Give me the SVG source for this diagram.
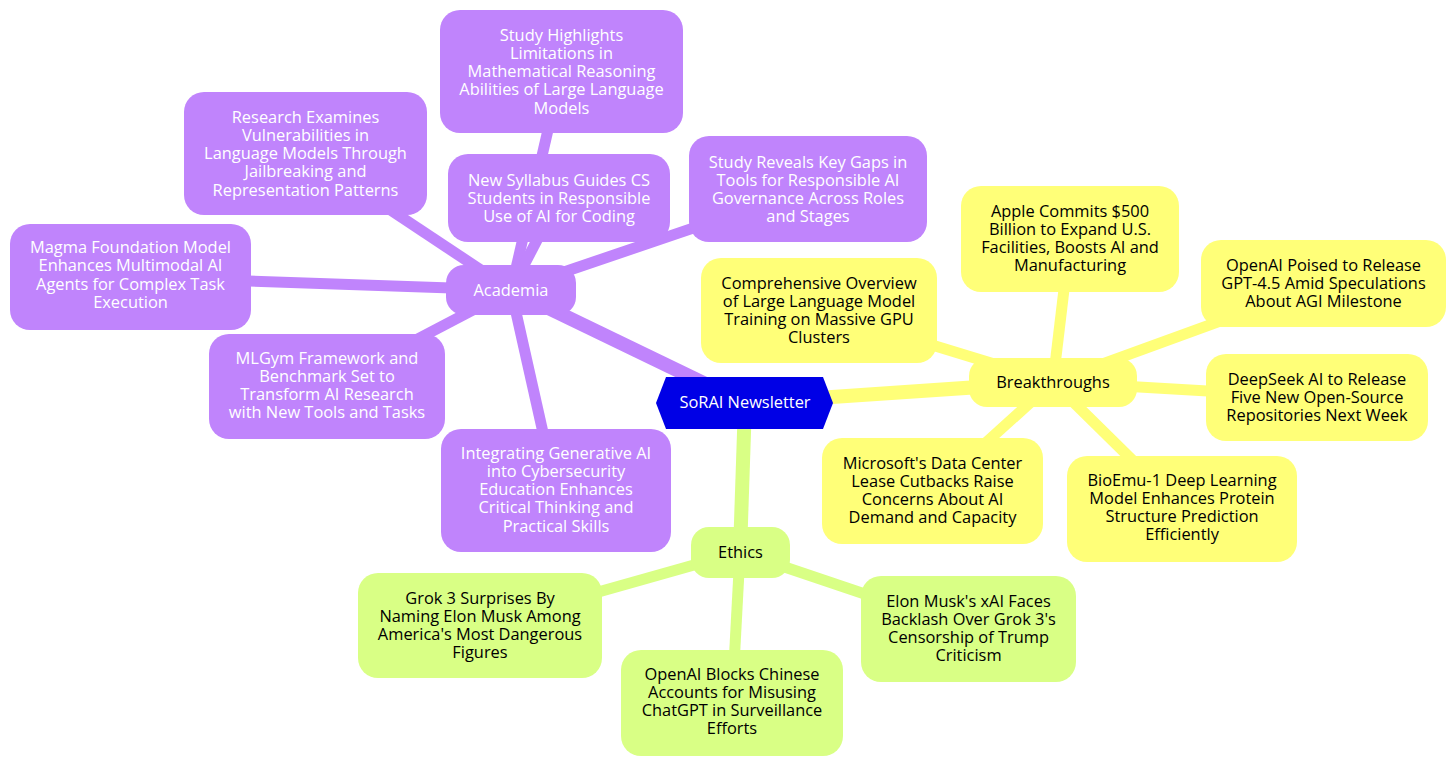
<svg xmlns="http://www.w3.org/2000/svg" width="1456" height="766" viewBox="0 0 1456 766">
<style>
text{font-family:"Open Sans","Noto Sans","Liberation Sans",sans-serif;font-size:16.4px;text-anchor:middle}
.p rect{fill:#c084fc}
.p text{fill:#ffffff}
.y rect{fill:#ffff78}
.y text{fill:#000000}
.g rect{fill:#d9ff85}
.g text{fill:#000000}
.e1{stroke-width:14;fill:none}
.e2{stroke-width:11;fill:none}
.ep{stroke:#c084fc}
.ey{stroke:#ffff78}
.eg{stroke:#d9ff85}
</style>
<rect x="0" y="0" width="1456" height="766" fill="#ffffff"/>
<g id="connectors">
<line class="e1 ep" x1="745" y1="403" x2="511" y2="290"/>
<line class="e1 ey" x1="745" y1="403" x2="1053" y2="382"/>
<line class="e1 eg" x1="745" y1="403" x2="740" y2="552"/>
<line class="e2 ep" x1="511" y1="290" x2="561.5" y2="71.5"/>
<line class="e2 ep" x1="511" y1="290" x2="305.5" y2="153.5"/>
<line class="e2 ep" x1="511" y1="290" x2="559" y2="198"/>
<line class="e2 ep" x1="511" y1="290" x2="130.5" y2="277"/>
<line class="e2 ep" x1="511" y1="290" x2="327" y2="386.5"/>
<line class="e2 ep" x1="511" y1="290" x2="556" y2="490.5"/>
<line class="e2 ep" x1="511" y1="290" x2="808" y2="189"/>
<line class="e2 ey" x1="1053" y1="382" x2="1070" y2="239"/>
<line class="e2 ey" x1="1053" y1="382" x2="819" y2="310.5"/>
<line class="e2 ey" x1="1053" y1="382" x2="1323.5" y2="283.5"/>
<line class="e2 ey" x1="1053" y1="382" x2="1317" y2="397.5"/>
<line class="e2 ey" x1="1053" y1="382" x2="932.5" y2="491"/>
<line class="e2 ey" x1="1053" y1="382" x2="1182" y2="509"/>
<line class="e2 eg" x1="740" y1="552" x2="480" y2="625.5"/>
<line class="e2 eg" x1="740" y1="552" x2="732" y2="703"/>
<line class="e2 eg" x1="740" y1="552" x2="968.5" y2="629"/>
</g>
<g id="root">
<polygon points="656,403 666,377 823,377 833,403 823,429 666,429" fill="#0000e6"/>
<text x="745" y="408" fill="#ffffff">SoRAI Newsletter</text>
</g>
<g id="academia" class="p">
<rect x="446" y="265" width="130" height="50" rx="18"/>
<text x="511" y="296">Academia</text>
</g>
<g id="breakthroughs" class="y">
<rect x="969" y="358" width="168" height="49" rx="18"/>
<text x="1053" y="388">Breakthroughs</text>
</g>
<g id="ethics" class="g">
<rect x="691" y="527" width="99" height="51" rx="18"/>
<text x="740.5" y="558">Ethics</text>
</g>
<g id="study-highlights" class="p">
<rect x="440" y="10" width="243" height="123" rx="20"/>
<text x="561.5"><tspan x="561.5" y="40.5">Study Highlights</tspan><tspan x="561.5" y="58.8">Limitations in</tspan><tspan x="561.5" y="77">Mathematical Reasoning</tspan><tspan x="561.5" y="95.3">Abilities of Large Language</tspan><tspan x="561.5" y="113.6">Models</tspan></text>
</g>
<g id="research-examines" class="p">
<rect x="184" y="92" width="243" height="123" rx="20"/>
<text x="305.5"><tspan x="305.5" y="122.5">Research Examines</tspan><tspan x="305.5" y="140.8">Vulnerabilities in</tspan><tspan x="305.5" y="159">Language Models Through</tspan><tspan x="305.5" y="177.3">Jailbreaking and</tspan><tspan x="305.5" y="195.6">Representation Patterns</tspan></text>
</g>
<g id="new-syllabus" class="p">
<rect x="448" y="154" width="222" height="88" rx="20"/>
<text x="559"><tspan x="559" y="185.7">New Syllabus Guides CS</tspan><tspan x="559" y="204">Students in Responsible</tspan><tspan x="559" y="222.3">Use of AI for Coding</tspan></text>
</g>
<g id="study-reveals" class="p">
<rect x="689" y="136" width="238" height="106" rx="20"/>
<text x="808"><tspan x="808" y="167.5">Study Reveals Key Gaps in</tspan><tspan x="808" y="185.8">Tools for Responsible AI</tspan><tspan x="808" y="204.1">Governance Across Roles</tspan><tspan x="808" y="222.4">and Stages</tspan></text>
</g>
<g id="magma" class="p">
<rect x="10" y="224" width="241" height="106" rx="20"/>
<text x="130.5"><tspan x="130.5" y="253">Magma Foundation Model</tspan><tspan x="130.5" y="271.3">Enhances Multimodal AI</tspan><tspan x="130.5" y="289.6">Agents for Complex Task</tspan><tspan x="130.5" y="307.9">Execution</tspan></text>
</g>
<g id="mlgym" class="p">
<rect x="209" y="334" width="236" height="105" rx="20"/>
<text x="327"><tspan x="327" y="363.5">MLGym Framework and</tspan><tspan x="327" y="381.8">Benchmark Set to</tspan><tspan x="327" y="400.1">Transform AI Research</tspan><tspan x="327" y="418.4">with New Tools and Tasks</tspan></text>
</g>
<g id="integrating" class="p">
<rect x="441" y="429" width="230" height="123" rx="20"/>
<text x="556"><tspan x="556" y="458.5">Integrating Generative AI</tspan><tspan x="556" y="476.8">into Cybersecurity</tspan><tspan x="556" y="495">Education Enhances</tspan><tspan x="556" y="513.3">Critical Thinking and</tspan><tspan x="556" y="531.6">Practical Skills</tspan></text>
</g>
<g id="apple" class="y">
<rect x="961" y="186" width="218" height="106" rx="20"/>
<text x="1070"><tspan x="1070" y="216.5">Apple Commits $500</tspan><tspan x="1070" y="234.8">Billion to Expand U.S.</tspan><tspan x="1070" y="253.1">Facilities, Boosts AI and</tspan><tspan x="1070" y="271.4">Manufacturing</tspan></text>
</g>
<g id="comprehensive" class="y">
<rect x="701" y="258" width="236" height="105" rx="20"/>
<text x="819"><tspan x="819" y="288.5">Comprehensive Overview</tspan><tspan x="819" y="306.8">of Large Language Model</tspan><tspan x="819" y="325.1">Training on Massive GPU</tspan><tspan x="819" y="343.4">Clusters</tspan></text>
</g>
<g id="openai-poised" class="y">
<rect x="1201" y="240" width="245" height="87" rx="20"/>
<text x="1323.5"><tspan x="1323.5" y="270.7">OpenAI Poised to Release</tspan><tspan x="1323.5" y="289">GPT-4.5 Amid Speculations</tspan><tspan x="1323.5" y="307.3">About AGI Milestone</tspan></text>
</g>
<g id="deepseek" class="y">
<rect x="1206" y="354" width="222" height="87" rx="20"/>
<text x="1317"><tspan x="1317" y="384.7">DeepSeek AI to Release</tspan><tspan x="1317" y="403">Five New Open-Source</tspan><tspan x="1317" y="421.3">Repositories Next Week</tspan></text>
</g>
<g id="microsoft" class="y">
<rect x="822" y="438" width="221" height="106" rx="20"/>
<text x="932.5"><tspan x="932.5" y="468.5">Microsoft's Data Center</tspan><tspan x="932.5" y="486.8">Lease Cutbacks Raise</tspan><tspan x="932.5" y="505.1">Concerns About AI</tspan><tspan x="932.5" y="523.4">Demand and Capacity</tspan></text>
</g>
<g id="bioemu" class="y">
<rect x="1067" y="456" width="230" height="106" rx="20"/>
<text x="1182"><tspan x="1182" y="485.5">BioEmu-1 Deep Learning</tspan><tspan x="1182" y="503.8">Model Enhances Protein</tspan><tspan x="1182" y="522.1">Structure Prediction</tspan><tspan x="1182" y="540.4">Efficiently</tspan></text>
</g>
<g id="grok" class="g">
<rect x="358" y="573" width="244" height="105" rx="20"/>
<text x="480"><tspan x="480" y="603.5">Grok 3 Surprises By</tspan><tspan x="480" y="621.8">Naming Elon Musk Among</tspan><tspan x="480" y="640.1">America's Most Dangerous</tspan><tspan x="480" y="658.4">Figures</tspan></text>
</g>
<g id="openai-blocks" class="g">
<rect x="621" y="650" width="222" height="106" rx="20"/>
<text x="732"><tspan x="732" y="679.5">OpenAI Blocks Chinese</tspan><tspan x="732" y="697.8">Accounts for Misusing</tspan><tspan x="732" y="716.1">ChatGPT in Surveillance</tspan><tspan x="732" y="734.4">Efforts</tspan></text>
</g>
<g id="elon" class="g">
<rect x="861" y="576" width="215" height="106" rx="20"/>
<text x="968.5"><tspan x="968.5" y="606.5">Elon Musk's xAI Faces</tspan><tspan x="968.5" y="624.8">Backlash Over Grok 3's</tspan><tspan x="968.5" y="643.1">Censorship of Trump</tspan><tspan x="968.5" y="661.4">Criticism</tspan></text>
</g>
</svg>
